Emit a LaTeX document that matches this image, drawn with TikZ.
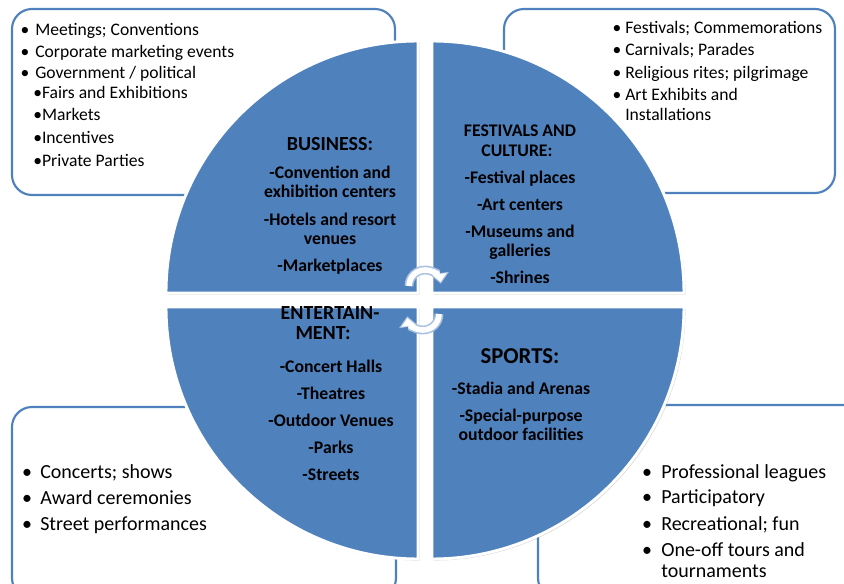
\documentclass[tikz,border=0pt]{standalone}
\usepackage{fontspec}
\setmainfont{Carlito}
\usetikzlibrary{arrows.meta,shadows}
\definecolor{qblue}{HTML}{4F81BD}
\definecolor{aline}{HTML}{A9C1E0}
\begin{document}
\begin{tikzpicture}[x=0.75pt,y=-0.75pt,
  infobox/.style={draw=qblue, line width=1.6pt, fill=white, rounded corners=15pt},
  quad/.style={fill=qblue, draw=white, line width=2.2pt,
    drop shadow={shadow xshift=1.2pt, shadow yshift=-1.2pt, opacity=0.3}},
  stxt/.style={anchor=base west, inner sep=0pt, font=\fontsize{13.2}{15}\selectfont},
  sbul/.style={anchor=base, inner sep=0pt, font=\fontsize{13.2}{15}\selectfont},
  ltxt/.style={anchor=base west, inner sep=0pt, font=\fontsize{15}{18}\selectfont},
  lbul/.style={anchor=base, inner sep=0pt, font=\fontsize{15}{18}\selectfont},
  qtxt/.style={anchor=base, inner sep=0pt, font=\fontsize{13.3}{15}\selectfont\bfseries},
  qhead/.style={anchor=base, inner sep=0pt, font=\fontsize{15}{17}\selectfont\bfseries},
  arrout/.style={draw=aline, line width=6.6pt, -{Triangle[width=14pt,length=8pt]}},
  arrin/.style={draw=white, line width=4.2pt, shorten >=1.4pt, -{Triangle[width=10.5pt,length=6pt]}}
]
\useasboundingbox (0,0) rectangle (844,584);
\clip (0,0) rectangle (844,584);
\fill[white] (0,0) rectangle (844,584);

% corner boxes
\draw[infobox] (12,9) rectangle (395,195);
\draw[infobox] (504,9) rectangle (835,193);
\draw[infobox] (12,407) rectangle (396,598);
\draw[infobox] (538,405) rectangle (870,598);

% quadrants
\path[quad] (418,293) -- (166,293) arc[start angle=180, end angle=270, radius=252] -- cycle;
\path[quad] (432,293) -- (432,41) arc[start angle=270, end angle=360, radius=252] -- cycle;
\path[quad] (418,307) -- (166,307) arc[start angle=180, end angle=90, radius=252] -- cycle;
\path[quad] (432,307) -- (684,307) arc[start angle=0, end angle=90, radius=252] -- cycle;

% central circular arrows
\draw[arrout] (409,286) arc[start angle=180, end angle=352, radius=16];
\draw[arrin] (409,286) arc[start angle=180, end angle=352, radius=16];
\draw[arrout] (439,314) arc[start angle=0, end angle=172, radius=16];
\draw[arrin] (439,314) arc[start angle=0, end angle=172, radius=16];

% top-left box text
\node[sbul] (tlb1) at (25,36) {•};
\node[stxt] (tl1) at (35,36) {Meetings; Conventions};
\node[sbul] (tlb2) at (25,58) {•};
\node[stxt] (tl2) at (35,58) {Corporate marketing events};
\node[sbul] (tlb3) at (25,79) {•};
\node[stxt] (tl3) at (35,79) {Government / political};
\node[stxt] (tl4) at (33,99) {•Fairs and Exhibitions};
\node[stxt] (tl5) at (33,121) {•Markets};
\node[stxt] (tl6) at (33,144) {•Incentives};
\node[stxt] (tl7) at (33,167) {•Private Parties};

% top-right box text
\node[sbul] (trb1) at (617,34) {•};
\node[stxt] (tr1) at (625,34) {Festivals; Commemorations};
\node[sbul] (trb2) at (617,56) {•};
\node[stxt] (tr2) at (625,56) {Carnivals; Parades};
\node[sbul] (trb3) at (617,79) {•};
\node[stxt] (tr3) at (625,79) {Religious rites; pilgrimage};
\node[sbul] (trb4) at (617,101) {•};
\node[stxt] (tr4) at (625,101) {Art Exhibits and};
\node[stxt] (tr5) at (625,121) {Installations};

% bottom-left box text
\node[lbul] (blb1) at (27,479) {•};
\node[ltxt] (bl1) at (40,479) {Concerts; shows};
\node[lbul] (blb2) at (27,505) {•};
\node[ltxt] (bl2) at (40,505) {Award ceremonies};
\node[lbul] (blb3) at (27,531) {•};
\node[ltxt] (bl3) at (40,531) {Street performances};

% bottom-right box text
\node[lbul] (brb1) at (647,479) {•};
\node[ltxt] (br1) at (661,479) {Professional leagues};
\node[lbul] (brb2) at (647,504) {•};
\node[ltxt] (br2) at (661,504) {Participatory};
\node[lbul] (brb3) at (647,531) {•};
\node[ltxt] (br3) at (661,531) {Recreational; fun};
\node[lbul] (brb4) at (647,557) {•};
\node[ltxt] (br4) at (661,557) {One-off tours and};
\node[ltxt] (br5) at (661,578) {tournaments};

% quadrant texts: business
\node[qhead] (q1h) at (330,151) {BUSINESS:};
\node[qtxt] (q1a) at (330,179) {-Convention and};
\node[qtxt] (q1b) at (330,198) {exhibition centers};
\node[qtxt] (q1c) at (330,226) {-Hotels and resort};
\node[qtxt] (q1d) at (330,245) {venues};
\node[qtxt] (q1e) at (330,272) {-Marketplaces};

% festivals
\node[qtxt] (q2h) at (520,136.5) {FESTIVALS AND};
\node[qtxt] (q2i) at (517,156.5) {CULTURE:};
\node[qtxt] (q2a) at (520,183.5) {-Festival places};
\node[qtxt] (q2b) at (520,210.5) {-Art centers};
\node[qtxt] (q2c) at (520,237.5) {-Museums and};
\node[qtxt] (q2d) at (520,256.5) {galleries};
\node[qtxt] (q2e) at (520,283.5) {-Shrines};

% entertainment
\node[qhead] (q3h) at (330,320) {ENTERTAIN-};
\node[qhead] (q3i) at (323,340) {MENT:};
\node[qtxt] (q3a) at (331,372.5) {-Concert Halls};
\node[qtxt] (q3b) at (331,399.5) {-Theatres};
\node[qtxt] (q3c) at (331,426.5) {-Outdoor Venues};
\node[qtxt] (q3d) at (331,453.5) {-Parks};
\node[qtxt] (q3e) at (331,480.5) {-Streets};

% sports
\node[anchor=base, inner sep=0pt, font=\fontsize{17}{19}\selectfont\bfseries] (q4h) at (520,364) {SPORTS:};
\node[qtxt] (q4a) at (521,394.5) {-Stadia and Arenas};
\node[qtxt] (q4b) at (521,421.5) {-Special-purpose};
\node[qtxt] (q4c) at (521,440.5) {outdoor facilities};
\end{tikzpicture}
\end{document}
